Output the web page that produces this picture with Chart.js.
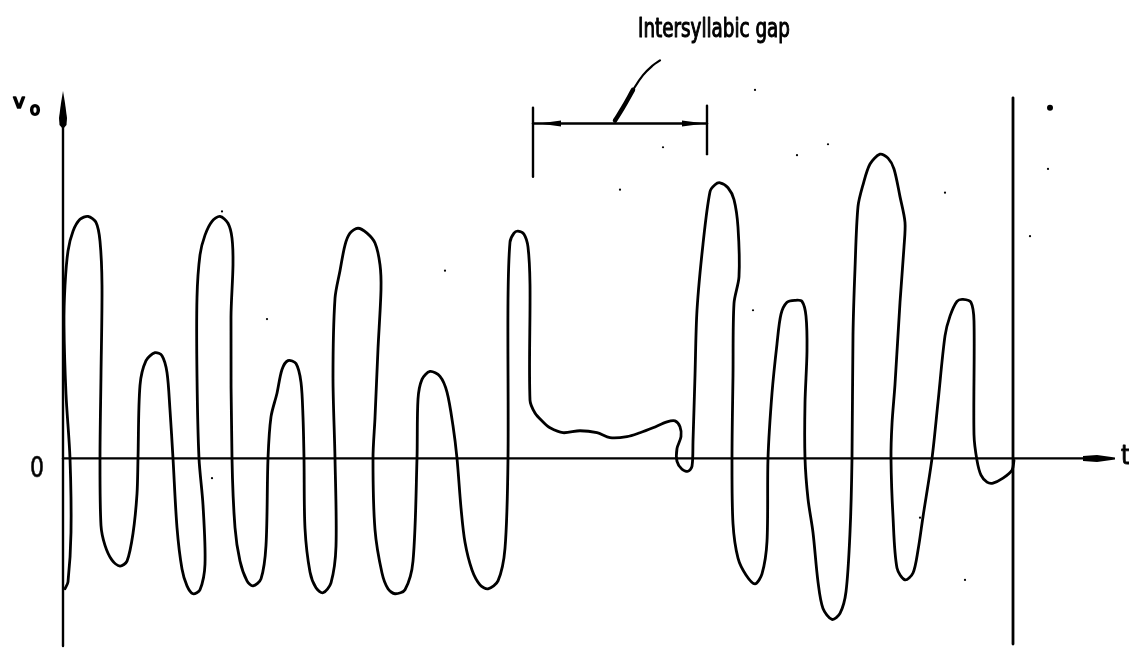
<!DOCTYPE html>
<html>
<head>
<meta charset="utf-8">
<script src="https://cdn.jsdelivr.net/npm/chart.js@4/dist/chart.umd.min.js"></script>
<style>
  html, body { margin: 0; padding: 0; background: #fff; }
</style>
</head>
<body>
<canvas id="chart" width="1129" height="657"></canvas>
<script>
// output voltage v_o traced against time t (arbitrary units)
const traceT = [
  0.2, 0.5, 0.8, 0.7, 0.3, 0.1, 0.2, 0.5, 1.0, 1.7,
  2.5, 3.3, 3.7, 3.9, 3.8, 3.7, 3.8, 4.2, 4.9, 5.7,
  6.4, 7.0, 7.4, 7.5, 7.7, 8.3, 9.2, 9.9, 10.4, 10.7,
  11.0, 11.4, 11.9, 12.4, 13.0, 13.7, 14.2, 14.0, 13.6, 13.4,
  13.4, 13.7, 14.2, 14.9, 15.7, 16.5, 16.9, 17.0, 16.8, 16.9,
  17.2, 17.7, 18.4, 19.0, 19.8, 20.3, 20.5, 20.8, 21.4, 21.9,
  22.5, 23.3, 23.8, 24.0, 24.1, 24.2, 24.7, 25.3, 26.0, 26.8,
  27.3, 27.2, 27.0, 27.2, 27.7, 28.2, 28.7, 29.5, 30.4, 31.2,
  31.7, 31.8, 31.5, 31.2, 31.0, 31.2, 31.9, 32.5, 33.2, 34.2,
  35.0, 35.4, 35.5, 35.9, 36.7, 37.7, 38.4, 39.0, 39.4, 39.8,
  40.2, 40.9, 41.7, 42.5, 43.5, 44.2, 44.5, 44.5, 44.7, 45.1,
  45.5, 46.1, 46.5, 46.7, 46.7, 47.2, 48.0, 48.7, 50.0, 51.7,
  53.4, 54.7, 56.4, 57.7, 59.0, 60.4, 61.2, 61.7, 61.8, 61.4,
  61.4, 61.9, 62.5, 62.9, 63.0, 63.2, 63.4, 64.0, 64.7, 65.2,
  65.7, 66.5, 67.1, 67.5, 67.6, 67.1, 67.0, 66.9, 67.0, 67.5,
  68.3, 69.2, 69.9, 70.4, 70.5, 70.9, 71.4, 71.8, 72.4, 73.2,
  73.9, 74.3, 74.4, 74.2, 74.2, 74.5, 75.0, 75.5, 76.0, 76.9,
  77.7, 78.3, 78.7, 78.9, 79.0, 79.2, 79.5, 80.0, 80.7, 81.7,
  82.5, 83.1, 83.7, 84.2, 84.1, 83.7, 83.2, 82.9, 82.8, 83.0,
  83.4, 84.2, 85.0, 85.5, 86.0, 86.9, 87.5, 88.2, 88.7, 89.4,
  90.0, 90.8, 91.1, 91.1, 91.4, 91.8, 92.4, 93.0, 94.0, 94.9,
  95.1
];
const traceV = [
  -1.32, -1.25, -0.75, 0, 0.65, 1.35, 1.75, 2.10, 2.30, 2.42,
  2.45, 2.39, 2.20, 1.75, 0.85, 0, -0.68, -0.88, -1.03, -1.09,
  -1.04, -0.76, -0.36, 0, 0.74, 0.99, 1.07, 1.04, 0.87, 0.49,
  0, -0.70, -1.12, -1.29, -1.37, -1.33, -1.07, -0.47, 0, 0.83,
  1.63, 2.06, 2.26, 2.40, 2.45, 2.38, 2.23, 1.96, 1.43, 0,
  -0.70, -1.04, -1.24, -1.29, -1.22, -0.88, 0, 0.42, 0.66, 0.90,
  0.99, 0.96, 0.77, 0.42, 0, -0.71, -1.15, -1.31, -1.36, -1.26,
  -0.89, 0, 0.82, 1.62, 1.90, 2.16, 2.28, 2.33, 2.28, 2.18,
  1.96, 1.71, 1.11, 0.41, 0, -0.72, -1.16, -1.32, -1.37, -1.33,
  -1.04, 0, 0.60, 0.80, 0.88, 0.83, 0.67, 0.33, 0, -0.50,
  -0.85, -1.13, -1.28, -1.32, -1.24, -0.91, 0, 1.59, 2.19, 2.28,
  2.30, 2.27, 2.14, 1.76, 0.59, 0.46, 0.37, 0.31, 0.26, 0.28,
  0.26, 0.21, 0.22, 0.26, 0.31, 0.37, 0.38, 0.32, 0.22, 0.10,
  -0.03, -0.11, -0.13, -0.08, 0.17, 0.84, 1.50, 2.17, 2.70, 2.77,
  2.79, 2.74, 2.62, 2.34, 1.84, 1.57, 0.84, 0, -0.66, -1.01,
  -1.18, -1.27, -1.17, -0.84, 0, 0.66, 1.16, 1.46, 1.58, 1.60,
  1.59, 1.44, 1.09, 0.56, 0, -0.41, -0.75, -1.25, -1.52, -1.63,
  -1.57, -1.35, -0.75, 0, 1.25, 1.92, 2.55, 2.77, 2.98, 3.08,
  3.04, 2.93, 2.65, 2.39, 2.14, 1.58, 0.75, 0.35, 0, -0.59,
  -1.11, -1.23, -1.16, -0.93, -0.59, 0, 0.57, 1.24, 1.44, 1.59,
  1.61, 1.58, 1.39, 0.24, -0.02, -0.17, -0.24, -0.25, -0.20, -0.12,
  -0.02
];

// axes and the end-of-utterance marker
const axisEndT = 105.2;
const axisTopV = 3.72;
const axisBottomV = -1.9;
const markerT = 95.0;
const markerV = [-1.88, 3.65];

// intersyllabic gap bracket and its leader
const gapT = [47.0, 64.4];
const gapLevelV = 3.39;
const gapLeftBarV = [2.85, 3.55];
const gapRightBarV = [3.08, 3.57];
const leaderT = [55.2, 56.0, 57.0, 58.0, 59.0, 59.7];
const leaderV = [3.42, 3.55, 3.73, 3.88, 3.98, 4.03];

// specks on the sheet
const speckT = [15.9, 20.4, 14.9, 38.2, 60.0, 55.7, 69.0, 69.2, 73.4, 76.5, 88.2, 96.7, 98.5, 85.7, 90.2];
const speckV = [2.50, 1.41, -0.20, 1.90, 3.15, 2.72, 1.50, 3.73, 3.07, 3.18, 2.69, 2.25, 2.93, -0.60, -1.23];
const blotT = [98.7];
const blotV = [3.55];

const ink = '#000';
const pts = (xs, ys) => xs.map((x, i) => ({ x: x, y: ys[i] }));
const stroke = (data, width, extra) => Object.assign({
  type: 'line', data: data, borderColor: ink, borderWidth: width,
  pointRadius: 0, tension: 0, fill: false, clip: false,
  borderCapStyle: 'round', borderJoinStyle: 'round'
}, extra || {});

// lettering: squeezed to a given width and thickened a little with an outline
function fitText(ctx, text, x, baseline, size, width, weight) {
  ctx.font = size + 'px "DejaVu Sans Condensed", "Liberation Sans Narrow", "DejaVu Sans", sans-serif';
  const w = ctx.measureText(text).width;
  ctx.save();
  ctx.translate(x, baseline);
  ctx.scale(width / w, 1);
  ctx.fillText(text, 0, 0);
  if (weight) {
    ctx.lineWidth = weight;
    ctx.strokeStyle = ink;
    ctx.lineJoin = 'round';
    ctx.strokeText(text, 0, 0);
  }
  ctx.restore();
}

const sketchPlugin = {
  id: 'sketch',
  afterDatasetsDraw(chart) {
    const ctx = chart.ctx;
    const xs = chart.scales.x, ys = chart.scales.y;
    const px = v => xs.getPixelForValue(v);
    const py = v => ys.getPixelForValue(v);
    ctx.save();
    ctx.fillStyle = ink;

    // arrow on top of the v_o axis
    const ax = px(0), tip = py(axisTopV);
    ctx.beginPath();
    ctx.moveTo(ax, tip);
    ctx.lineTo(ax + 2, tip + 12);
    ctx.lineTo(ax + 4, tip + 27);
    ctx.lineTo(ax + 3.5, tip + 34);
    ctx.lineTo(ax, tip + 38);
    ctx.lineTo(ax - 3.5, tip + 34);
    ctx.lineTo(ax - 4, tip + 27);
    ctx.lineTo(ax - 2, tip + 12);
    ctx.closePath();
    ctx.fill();

    // arrow at the end of the time axis
    const tx = px(axisEndT), ty = py(0);
    ctx.beginPath();
    ctx.moveTo(tx, ty - 1);
    ctx.lineTo(tx - 18, ty - 3.5);
    ctx.lineTo(tx - 32, ty - 2.5);
    ctx.lineTo(tx - 32, ty + 2.5);
    ctx.lineTo(tx - 18, ty + 3.5);
    ctx.lineTo(tx, ty + 1);
    ctx.closePath();
    ctx.fill();

    // double arrow of the gap bracket
    const gy = py(gapLevelV);
    const gl = px(gapT[0]), gr = px(gapT[1]);
    ctx.beginPath();
    ctx.moveTo(gl + 6, gy);
    ctx.lineTo(gl + 28, gy - 3);
    ctx.lineTo(gl + 28, gy + 3);
    ctx.closePath();
    ctx.fill();
    ctx.beginPath();
    ctx.moveTo(gr - 2, gy);
    ctx.lineTo(gr - 25, gy - 3);
    ctx.lineTo(gr - 25, gy + 3);
    ctx.closePath();
    ctx.fill();

    // labels
    ctx.textAlign = 'left';
    ctx.textBaseline = 'alphabetic';
    fitText(ctx, 'Intersyllabic gap', 638, 37, 27, 152, 1.1);
    fitText(ctx, 'v', 13, 108, 20, 12, 1.6);
    fitText(ctx, 'o', 30, 115, 17, 10, 1.8);
    fitText(ctx, '0', 30, 477, 29, 14, 0.6);
    fitText(ctx, 't', 1121, 464, 26, 9, 0.8);
    ctx.restore();
  }
};

new Chart(document.getElementById('chart'), {
  data: {
    datasets: [
      stroke(pts(traceT, traceV), 2.8, { tension: 0.3 }),
      stroke([{ x: 0, y: 0 }, { x: axisEndT - 3, y: 0 }], 2.4),
      stroke([{ x: 0, y: axisBottomV }, { x: 0, y: axisTopV - 0.2 }], 2.4),
      stroke([{ x: markerT, y: markerV[0] }, { x: markerT, y: markerV[1] }], 2.8),
      stroke([{ x: gapT[0], y: gapLeftBarV[0] }, { x: gapT[0], y: gapLeftBarV[1] }], 2.4),
      stroke([{ x: gapT[1], y: gapRightBarV[0] }, { x: gapT[1], y: gapRightBarV[1] }], 2.4),
      stroke([{ x: gapT[0], y: gapLevelV }, { x: gapT[1], y: gapLevelV }], 2.4),
      stroke(pts(leaderT, leaderV), 2.2, { tension: 0.4 }),
      stroke(pts(leaderT.slice(0, 3), leaderV.slice(0, 3)), 4.5, { tension: 0.4 }),
      { type: 'scatter', data: pts(speckT, speckV), pointRadius: 1.1, pointBackgroundColor: ink, pointBorderWidth: 0, clip: false },
      { type: 'scatter', data: pts(blotT, blotV), pointRadius: 3, pointBackgroundColor: ink, pointBorderWidth: 0, clip: false }
    ]
  },
  options: {
    responsive: false,
    animation: false,
    events: [],
    layout: { padding: { left: 63, right: 14, top: 0, bottom: 0 } },
    plugins: { legend: { display: false }, tooltip: { enabled: false } },
    scales: {
      x: { type: 'linear', min: 0, max: axisEndT, display: false },
      y: { type: 'linear', min: -1.97, max: 4.6, display: false }
    }
  },
  plugins: [sketchPlugin]
});
</script>
</body>
</html>
